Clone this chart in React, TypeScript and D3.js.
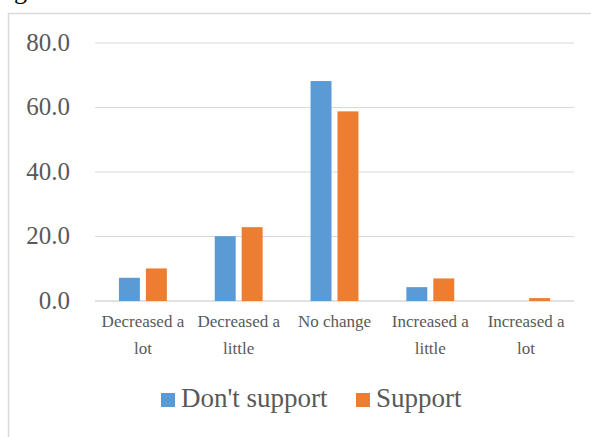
import React, { useEffect, useRef } from "react";
import * as d3 from "d3";

// Survey responses, percent of respondents per change category
const categories = ["Decreased a lot", "Decreased a little", "No change", "Increased a little", "Increased a lot"];
const categoryLines = [["Decreased a", "lot"], ["Decreased a", "little"], ["No change"], ["Increased a", "little"], ["Increased a", "lot"]];
const seriesNames = ["Don't support", "Support"];
const dontSupport = [7.2, 20.1, 68.2, 4.3, 0.0];
const support = [10.1, 22.9, 58.8, 7.0, 0.9];
const yTicks = [0, 20, 40, 60, 80];
const colors = ["#5b9bd5", "#ed7d31"];

const W = 591;
const H = 437;
const FONT = "'Liberation Serif', 'Times New Roman', serif";
const TEXT = "#595959";
const GRID = "#d9d9d9";

export default function App() {
  const ref = useRef<SVGSVGElement | null>(null);

  useEffect(() => {
    document.body.style.margin = "0";
    const svg = d3.select(ref.current);
    svg.selectAll("*").remove();

    // chart frame (cropped at the right and bottom)
    svg.append("rect")
      .attr("x", 8.5).attr("y", 13.5)
      .attr("width", W + 10).attr("height", H + 10)
      .attr("fill", "#fff").attr("stroke", GRID).attr("stroke-width", 1.5);

    // tail of the title line above the chart
    svg.append("text").attr("x", 14).attr("y", -1)
      .attr("font-family", FONT).attr("font-size", 26).attr("fill", "#000")
      .text("g");

    const left = 95, right = 574, top = 43, bottom = 301;
    const y = d3.scaleLinear().domain([0, 80]).range([bottom, top]);
    const x0 = d3.scaleBand<string>().domain(categories).range([left, right]).paddingInner(0.5).paddingOuter(0.25);
    const x1 = d3.scaleBand<string>().domain(seriesNames).range([0, x0.bandwidth()]).paddingInner(0.222);

    // gridlines + tick labels
    const g = svg.append("g");
    yTicks.forEach((t) => {
      g.append("line")
        .attr("x1", left).attr("x2", right)
        .attr("y1", y(t)).attr("y2", y(t))
        .attr("stroke", GRID).attr("stroke-width", t === 0 ? 1.5 : 1.2);
      g.append("text")
        .attr("x", 70).attr("y", y(t) + 7.5)
        .attr("text-anchor", "end")
        .attr("font-family", FONT).attr("font-size", 25).attr("fill", TEXT)
        .text(d3.format(".1f")(t));
    });

    // bars
    const values = [dontSupport, support];
    values.forEach((vals, si) => {
      g.selectAll(null)
        .data(vals)
        .enter()
        .append("rect")
        .attr("x", (_d, i) => (x0(categories[i]) ?? 0) + (x1(seriesNames[si]) ?? 0))
        .attr("y", (d) => y(d))
        .attr("width", x1.bandwidth())
        .attr("height", (d) => bottom - y(d))
        .attr("fill", colors[si]);
    });

    // category labels (wrapped over two lines)
    categories.forEach((c, i) => {
      const cx = (x0(c) ?? 0) + x0.bandwidth() / 2;
      categoryLines[i].forEach((line, li) => {
        g.append("text")
          .attr("x", cx).attr("y", 327 + li * 27)
          .attr("text-anchor", "middle")
          .attr("font-family", FONT).attr("font-size", 17).attr("fill", TEXT)
          .text(line);
      });
    });

    // legend
    const legendX = [161, 356];
    seriesNames.forEach((name, si) => {
      g.append("rect")
        .attr("x", legendX[si]).attr("y", 393)
        .attr("width", 14).attr("height", 14)
        .attr("fill", colors[si]);
      g.append("text")
        .attr("x", legendX[si] + 20).attr("y", 406.5)
        .attr("font-family", FONT).attr("font-size", 27).attr("fill", TEXT)
        .text(name);
    });
  }, []);

  return (
    <svg
      ref={ref}
      width={W}
      height={H}
      style={{ position: "fixed", left: 0, top: 0, background: "#fff", display: "block" }}
    />
  );
}
